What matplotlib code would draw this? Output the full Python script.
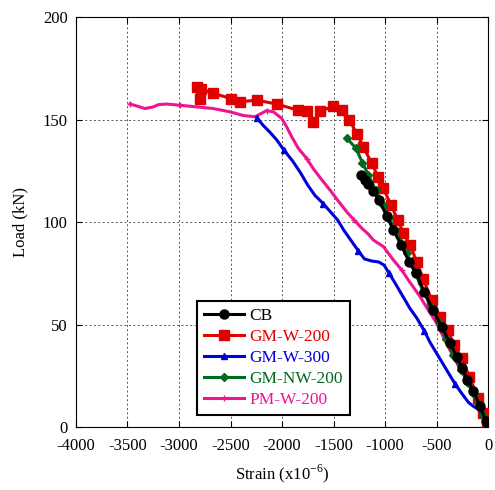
import matplotlib
matplotlib.use("Agg")
import matplotlib.pyplot as plt

plt.rcParams['font.family'] = ['Liberation Serif', 'DejaVu Serif']
plt.rcParams['mathtext.fontset'] = 'custom'
plt.rcParams['mathtext.rm'] = 'Liberation Serif'
plt.rcParams['axes.unicode_minus'] = False

# CB
cb_x = [-1233, -1194, -1162, -1113, -1058, -984, -919, -845, -767, -699, -620,
        -534, -450, -370, -300, -255, -200, -143, -80, -20, 0]
cb_y = [123, 120.5, 118.5, 115, 110.7, 103, 96, 89, 80.6, 75, 66,
        57, 49, 41, 34, 29, 23, 17.7, 10, 3, 1]

# GM-W-200
gw200_x = [-2828, -2796, -2790, -2667, -2495, -2408, -2246, -2052, -1845, -1760,
           -1696, -1631, -1502, -1420, -1349, -1275, -1210, -1129, -1065, -1016,
           -942, -877, -822, -757, -692, -628, -547, -466, -392, -330, -255,
           -182, -94, -45, -7]
gw200_y = [166, 160, 165, 162.8, 160.3, 158.7, 159.5, 157.6, 154.6, 154,
           149, 154, 156.6, 154.5, 150, 143.2, 136.7, 128.6, 121.8, 116.4,
           108.3, 101, 94.5, 88.8, 80.6, 72, 62, 53.8, 47.3, 40, 33.5,
           24.5, 14, 6.7, 2.6]

# GM-W-300
gw300_x = [-2246, -2230, -2180, -2120, -2050, -1980, -1900, -1820, -1750, -1680,
           -1600, -1530, -1460, -1400, -1330, -1260, -1200, -1130, -1060, -1010,
           -960, -900, -830, -760, -690, -620, -560, -500, -440, -380, -320,
           -250, -190, -140, -90, -50, -20, 0]
gw300_y = [151, 150, 147, 144, 140, 135, 130, 124, 118, 113,
           109, 105, 101, 96, 91, 86, 82, 81, 80.5, 79,
           75, 70, 64, 58, 53, 47, 41, 36, 31, 26, 21,
           16, 12, 10, 8.5, 7, 3, 1]

# GM-NW-200
gnw_x = [-1372, -1282, -1220, -1162, -1090, -1016, -960, -903, -845, -790, -710,
         -628, -550, -472, -405, -337, -265, -191, -140, -94, -50, -13]
gnw_y = [141, 136, 129, 123, 115.5, 108.3, 102, 96, 90, 84.7, 75.5,
         66, 58.5, 51, 43, 35, 28, 21.3, 16, 11.5, 6, 1.8]

# PM-W-200
pm_x = [-3476, -3400, -3330, -3250, -3200, -3120, -2990, -2828, -2667, -2505,
        -2376, -2262, -2149, -2084, -2003, -1950, -1906, -1842, -1760, -1696,
        -1620, -1534, -1450, -1372, -1300, -1226, -1160, -1113, -1016, -919,
        -838, -774, -660, -580, -498, -420, -337, -260, -191, -110, -61, -13]
pm_y = [157.6, 156.5, 155.4, 156.2, 157.3, 157.6, 157, 156.2, 155.4, 153.8,
        152, 151.4, 154.4, 153.8, 150.6, 146, 141.6, 136, 131, 126,
        121, 115.6, 110, 105, 101, 97, 94, 91.2, 88, 81.5,
        76.6, 71.7, 63.6, 57, 50.6, 42.5, 34.3, 27.5, 21.3, 13, 7.5, 1.8]

fig = plt.figure(figsize=(4.95, 4.9), dpi=100)
ax = fig.add_axes([0.1535, 0.1286, 0.8325, 0.8364])

ax.plot(cb_x, cb_y, color='black', lw=2.2, marker='o', ms=6.5, label='CB', zorder=5)
ax.plot(gw200_x, gw200_y, color='#e00000', lw=2.2, marker='s', ms=6.5, label='GM-W-200', zorder=3)
ax.plot(gw300_x, gw300_y, color='#0000d8', lw=2.2, marker='^', ms=4, markevery=5,
        label='GM-W-300', zorder=3)
ax.plot(gnw_x, gnw_y, color='#006a20', lw=2.2, marker='D', ms=4.5, label='GM-NW-200', zorder=4)
ax.plot(pm_x, pm_y, color='#f01490', lw=2.2, marker='+', ms=5, markevery=6,
        label='PM-W-200', zorder=2)

ax.set_xlim(-4000, 0)
ax.set_ylim(0, 200)
ax.set_xticks(range(-4000, 1, 500))
ax.set_yticks(range(0, 201, 50))
ax.grid(True, color='#555555', linestyle=(0, (2, 2.5)), linewidth=0.7)
ax.tick_params(direction='in', labelsize=12, top=True, right=True, length=4)
ax.tick_params(axis='x', pad=8)
ax.tick_params(axis='y', pad=6)
for s in ax.spines.values():
    s.set_linewidth(0.8)

ax.set_xlabel('Strain (x10$^{-6}$)', fontsize=12, labelpad=6)
ax.set_ylabel('Load (kN)', fontsize=12, labelpad=10)

leg = ax.legend(loc='lower left', bbox_to_anchor=(0.293, 0.03), fontsize=12.5,
                handlelength=2.35, fancybox=False, framealpha=1, edgecolor='black',
                borderpad=0.4, labelspacing=0.27, handletextpad=0.3,
                borderaxespad=0)
leg.get_frame().set_linewidth(1.5)
for txt, line in zip(leg.get_texts(), leg.get_lines()):
    txt.set_color(line.get_color())

fig.savefig('out.png', dpi=100)
